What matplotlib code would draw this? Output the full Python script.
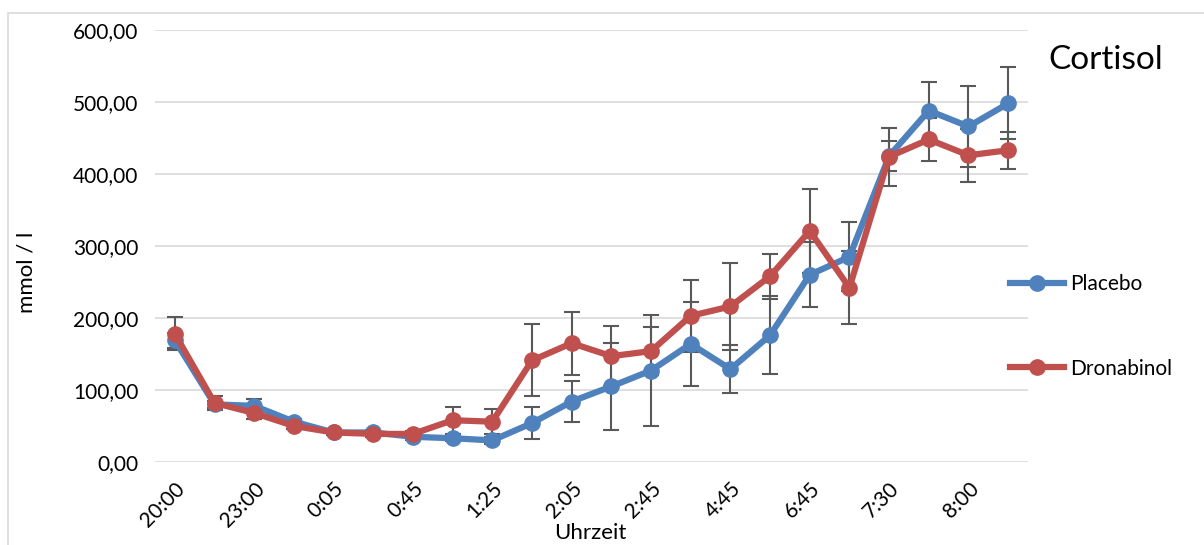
import numpy as np
import matplotlib.pyplot as plt
from matplotlib.patches import Rectangle

plt.rcParams['font.family'] = ['Lato', 'DejaVu Sans']

# Beschriftung der x-Achse (nur jeder zweite Messzeitpunkt ist beschriftet)
zeit_labels = ['20:00', '23:00', '0:05', '0:45', '1:25', '2:05',
               '2:45', '4:45', '6:45', '7:30', '8:00']

# Mittelwerte (mmol / l), 22 Messzeitpunkte
placebo = [169, 80, 78, 56, 41, 41, 35, 33, 30, 54, 84,
           105, 127, 164, 129, 176, 260, 285, 425, 488, 466, 498]
dronabinol = [178, 82, 68, 50, 41, 39, 39, 58, 56, 141, 165,
              147, 154, 203, 216, 258, 321, 242, 424, 448, 426, 433]

# Fehlerbalken
placebo_err = [10, 5, 9, 4, 4, 4, 4, 4, 5, 22, 29,
               60, 77, 58, 33, 54, 45, 48, 21, 40, 56, 50]
dronabinol_err = [23, 10, 8, 4, 4, 4, 4, 19, 17, 50, 44,
                  42, 33, 50, 60, 31, 58, 51, 40, 30, 37, 26]

blau = '#4F81BD'
rot = '#C0504D'
grau = '#595959'

fig = plt.figure(figsize=(12.04, 5.45), dpi=100)
fig.patches.append(Rectangle((8 / 1204, -0.1), 1.2, 1.1 - 13 / 545,
                             transform=fig.transFigure, fill=False,
                             edgecolor='#D9D9D9', linewidth=1.2))
ax = fig.add_axes([155 / 1204, 1 - 462 / 545, 873 / 1204, 432 / 545])

x = np.arange(len(placebo))
for werte, fehler, farbe, name in [(placebo, placebo_err, blau, 'Placebo'),
                                   (dronabinol, dronabinol_err, rot, 'Dronabinol')]:
    ax.errorbar(x, werte, yerr=fehler, fmt='none', ecolor=grau,
                elinewidth=1.5, capsize=6, capthick=1.5, zorder=3)
    ax.plot(x, werte, color=farbe, linewidth=4.5, marker='o', markersize=11,
            label=name, zorder=4)

ax.set_xlim(-0.5, len(placebo) - 0.5)
ax.set_ylim(0, 600)
ax.set_yticks(np.arange(0, 601, 100))
ax.set_yticklabels([f'{v},00' for v in range(0, 601, 100)], fontsize=15)
ax.set_xticks(x[::2])
ax.set_xticklabels(zeit_labels, rotation=45, ha='right', rotation_mode='anchor',
                   fontsize=15)
ax.tick_params(axis='y', length=0, pad=12)
ax.tick_params(axis='x', length=0, pad=12)
ax.grid(axis='y', color='#D9D9D9', linewidth=1.2)
ax.set_axisbelow(True)
for s in ax.spines.values():
    s.set_visible(False)

ax.set_ylabel('mmol / l', fontsize=16)
ax.yaxis.set_label_coords(-0.136, 0.44)
fig.text(590 / 1204, 1 - 533 / 545, 'Uhrzeit', fontsize=16,
         ha='center', va='center')
fig.text(1048 / 1204, 1 - 60 / 545, 'Cortisol', fontsize=24,
         ha='left', va='center')

leg = ax.legend(loc='center left', bbox_to_anchor=(0.979, 0.314), frameon=False,
                fontsize=15, labelspacing=3.1, handlelength=2.6, handletextpad=0.3,
                borderaxespad=0, borderpad=0)

fig.savefig('out.png', dpi=100)
